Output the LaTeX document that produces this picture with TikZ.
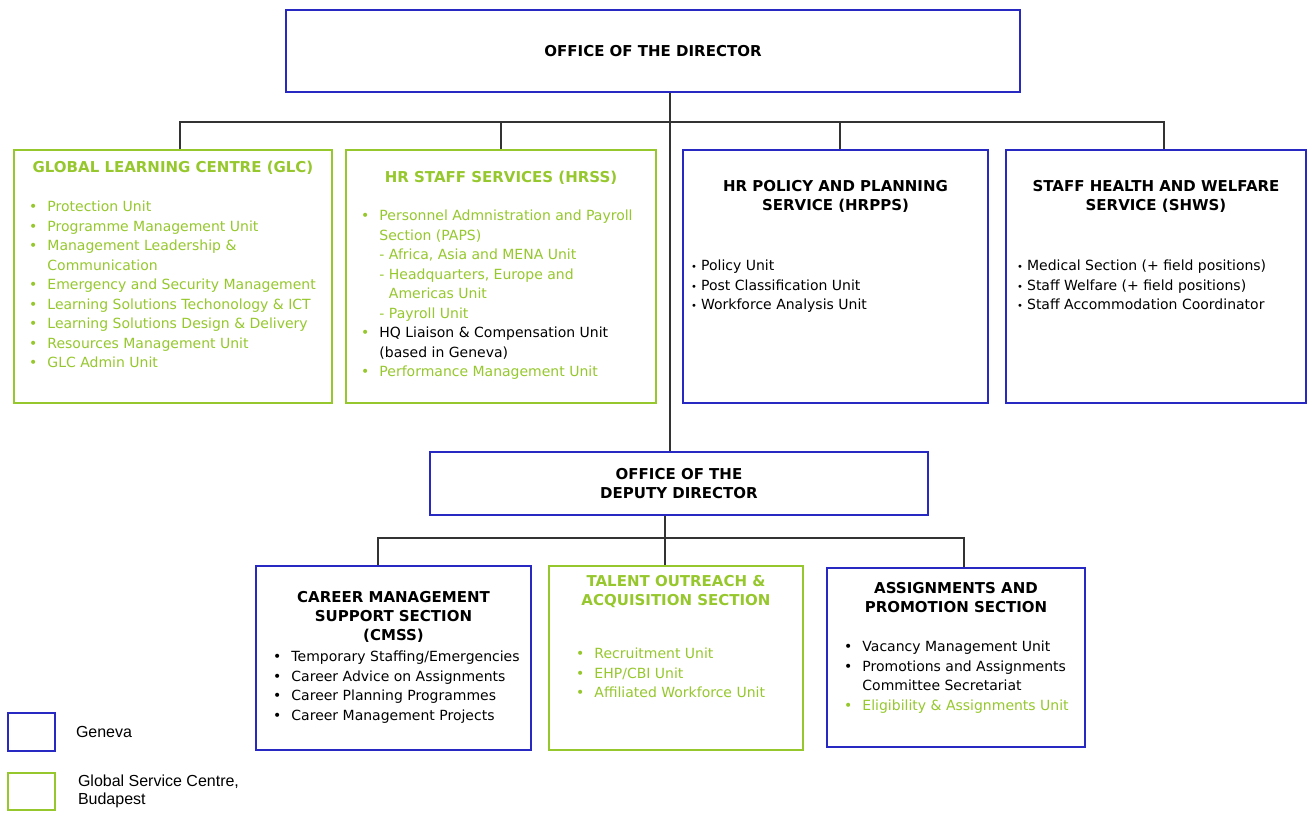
\documentclass[tikz,border=0pt]{standalone}
\usepackage{fontspec}
\setmainfont{DejaVu Sans}
\newfontfamily\legendfont{Liberation Sans}
\usepackage{tikz}
\usetikzlibrary{positioning}
\definecolor{genevablue}{RGB}{40,40,195}
\definecolor{gscgreen}{RGB}{150,200,45}
\newcommand{\unitbullet}{\textbullet\hspace{10pt}}
\newcommand{\unitindent}{\hphantom{\unitbullet}}
\newcommand{\smallbullet}{{\fontsize{10}{10}\selectfont\textbullet}\hspace{4pt}}

\begin{document}
\begin{tikzpicture}[x=1pt,y=-1pt]
\tikzset{font=\fontsize{14}{19.5}\selectfont}
\tikzset{unit/.style={draw, line width=1.6pt, inner sep=0pt, align=center}}
\tikzset{geneva/.style={unit, draw=genevablue}}
\tikzset{gsc/.style={unit, draw=gscgreen}}
\tikzset{head/.style={font=\fontsize{15}{19}\selectfont\bfseries, align=center}}
\tikzset{items/.style={anchor=north west, align=left, inner sep=0pt}}
\tikzset{link/.style={draw=black!80, line width=1.2pt}}
\tikzset{legend/.style={font=\legendfont\fontsize{16}{18}\selectfont, align=left, inner sep=0pt}}
\fill[white] (0,0) rectangle (1308,812);
\useasboundingbox (0,0) rectangle (1308,812);

\node[geneva, head, minimum width=734pt, minimum height=82pt] (director) at (653,51) {OFFICE OF THE DIRECTOR};

\node[gsc, minimum width=318pt, minimum height=253pt] (glc) at (173,276.5) {};
\node[head, text=gscgreen] (glctitle) at (173,168) {GLOBAL LEARNING CENTRE (GLC)};
\node[items, text=gscgreen] (glcunits) at (29,201) {\unitbullet Protection Unit\\ \unitbullet Programme Management Unit\\ \unitbullet Management Leadership \&\\ \unitindent Communication\\ \unitbullet Emergency and Security Management\\ \unitbullet Learning Solutions Techonology \& ICT\\ \unitbullet Learning Solutions Design \& Delivery\\ \unitbullet Resources Management Unit\\ \unitbullet GLC Admin Unit};

\node[gsc, minimum width=310pt, minimum height=253pt] (hrss) at (501,276.5) {};
\node[head, text=gscgreen] (hrsstitle) at (501,178) {HR STAFF SERVICES (HRSS)};
\node[items, text=gscgreen] (hrssunits) at (361,210) {\unitbullet Personnel Admnistration and Payroll\\ \unitindent Section (PAPS)\\ \unitindent - Africa, Asia and MENA Unit\\ \unitindent - Headquarters, Europe and\\ \unitindent \hphantom{- }Americas Unit\\ \unitindent - Payroll Unit\\ \unitbullet {\color{black}HQ Liaison \& Compensation Unit}\\ \unitindent {\color{black}(based in Geneva)}\\ \unitbullet Performance Management Unit};

\node[geneva, minimum width=305pt, minimum height=253pt] (hrpps) at (835.5,276.5) {};
\node[head] (hrppstitle) at (835.5,196) {HR POLICY AND PLANNING\\ SERVICE (HRPPS)};
\node[items] (hrppsunits) at (691,260) {\smallbullet Policy Unit\\ \smallbullet Post Classification Unit\\ \smallbullet Workforce Analysis Unit};

\node[geneva, minimum width=300pt, minimum height=253pt] (shws) at (1156,276.5) {};
\node[head] (shwstitle) at (1156,196) {STAFF HEALTH AND WELFARE\\ SERVICE (SHWS)};
\node[items] (shwsunits) at (1017,260) {\smallbullet Medical Section (+ field positions)\\ \smallbullet Staff Welfare (+ field positions)\\ \smallbullet Staff Accommodation Coordinator};

\node[geneva, head, minimum width=498pt, minimum height=63pt] (deputy) at (679,483.5) {OFFICE OF THE\\ DEPUTY DIRECTOR};

\node[geneva, minimum width=275pt, minimum height=184pt] (cmss) at (393.5,658) {};
\node[head] (cmsstitle) at (393.5,617) {CAREER MANAGEMENT\\ SUPPORT SECTION\\ (CMSS)};
\node[items] (cmssunits) at (273,651) {\unitbullet Temporary Staffing/Emergencies\\ \unitbullet Career Advice on Assignments\\ \unitbullet Career Planning Programmes\\ \unitbullet Career Management Projects};

\node[gsc, minimum width=254pt, minimum height=184pt] (toas) at (676,658) {};
\node[head, text=gscgreen] (toastitle) at (676,592) {TALENT OUTREACH \&\\ ACQUISITION SECTION};
\node[items, text=gscgreen] (toasunits) at (576,648) {\unitbullet Recruitment Unit\\ \unitbullet EHP/CBI Unit\\ \unitbullet Affiliated Workforce Unit};

\node[geneva, minimum width=258pt, minimum height=179pt] (aps) at (956,657.5) {};
\node[head] (apstitle) at (956,598) {ASSIGNMENTS AND\\ PROMOTION SECTION};
\node[items] (apsunits) at (844,641) {\unitbullet Vacancy Management Unit\\ \unitbullet Promotions and Assignments\\ \unitindent Committee Secretariat\\ {\color{gscgreen}\unitbullet Eligibility \& Assignments Unit}};

\coordinate (topbus) at (670,122);
\coordinate (lowbus) at (665,538);
\draw[link] (director.south -| topbus) -- (deputy.north -| topbus);
\draw[link] ([xshift=7pt]glc.north) |- (topbus) -| ([xshift=8pt]shws.north);
\draw[link] (hrss.north) -- (hrss.north |- topbus);
\draw[link] ([xshift=4.5pt]hrpps.north) -- ([xshift=4.5pt]hrpps.north |- topbus);
\draw[link] (deputy.south -| lowbus) -- (toas.north -| lowbus);
\draw[link] ([xshift=-15.5pt]cmss.north) |- (lowbus) -| ([xshift=8pt]aps.north);

\node[geneva, minimum width=47pt, minimum height=38pt] (genevakey) at (31.5,732) {};
\node[legend, right=20pt of genevakey] (genevatext) {Geneva};
\node[gsc, minimum width=47pt, minimum height=37pt] (gsckey) at (31.5,791.5) {};
\node[legend, right=22pt of gsckey] (gsctext) {Global Service Centre,\\ Budapest};
\end{tikzpicture}
\end{document}
